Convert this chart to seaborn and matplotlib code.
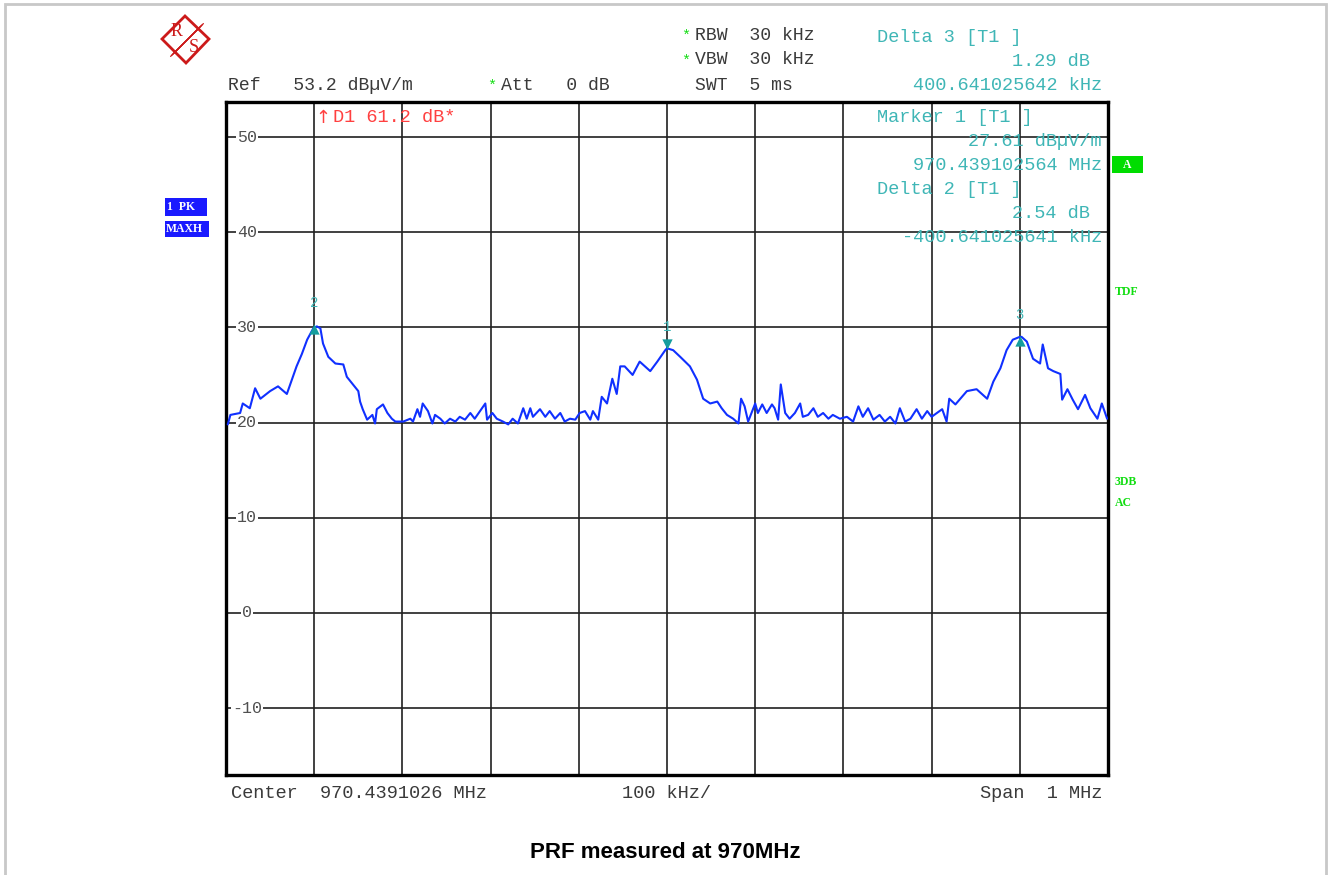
import matplotlib
matplotlib.use("Agg")
import matplotlib.pyplot as plt
import matplotlib.transforms as mtransforms
from matplotlib.patches import Rectangle, Polygon
from matplotlib.lines import Line2D
import seaborn as sns
import pandas as pd

# ---------------- data ----------------
freq_khz = [-498, -495, -484, -481, -473, -467, -461, -450, -441, -431, -425, -420,
            -414, -408, -401, -397, -393, -390, -384, -376, -367, -363, -356, -350,
            -348, -345, -340, -334, -331, -329, -322, -317, -312, -308,
            -299, -291, -288, -283, -280, -277, -271, -266, -263, -257,
            -252, -246, -240, -235, -229, -223, -218, -212, -206, -204,
            -198, -193, -186, -180, -175, -169, -163, -159, -155, -152,
            -144, -138, -133, -127, -121, -116, -110, -104, -99, -93,
            -87, -84, -78, -74, -68,
            -62, -57, -53, -48, -39, -31, -19, -11, -2, 0, 7, 15, 26, 34,
            41, 49, 57, 62, 68, 75, 81, 84, 88, 92,
            100, 103, 108, 113, 119, 122, 126, 129, 134, 139,
            145, 151, 154, 160, 166, 171, 177, 183, 188, 196,
            204, 211, 217, 222, 228, 234, 241, 247, 253, 259,
            264, 270, 276, 283, 289, 295, 300, 306, 312, 317,
            320, 327,
            340, 351, 363, 370, 378, 385, 392, 400, 402, 408,
            415, 423, 426, 432, 438, 446, 448, 454, 460, 466,
            474, 480, 488, 493, 499]
level_dbuv = [19.8, 20.8, 21.0, 22.0, 21.5, 23.6, 22.5, 23.3, 23.8, 23.0, 24.6, 25.9,
              27.2, 28.7, 29.9, 30.1, 29.9, 28.3, 26.9, 26.2, 26.1, 24.8, 24.0, 23.3,
              22.2, 21.4, 20.3, 20.8, 19.9, 21.4, 21.9, 21.0, 20.4, 20.1,
              20.1, 20.4, 20.1, 21.4, 20.6, 22.0, 21.2, 19.9, 20.8, 20.4,
              19.9, 20.4, 20.1, 20.6, 20.3, 21.0, 20.4, 21.2, 22.0, 20.3,
              21.0, 20.4, 20.1, 19.8, 20.4, 19.9, 21.5, 20.4, 21.5, 20.6,
              21.4, 20.6, 21.2, 20.4, 21.0, 20.1, 20.4, 20.3, 21.0, 21.2,
              20.3, 21.2, 20.3, 22.7, 22.0,
              24.6, 23.0, 25.9, 25.9, 25.0, 26.4, 25.4, 26.4, 27.6, 27.8, 27.6, 26.9, 25.9, 24.5,
              22.5, 22.0, 22.2, 21.5, 20.8, 20.4, 19.9, 22.5, 21.7, 20.1,
              22.0, 21.0, 21.9, 21.0, 21.9, 21.5, 20.3, 24.0, 21.0, 20.4,
              21.0, 22.0, 20.6, 20.8, 21.5, 20.6, 21.0, 20.4, 20.8, 20.4,
              20.6, 20.1, 21.7, 20.6, 21.5, 20.3, 20.8, 20.1, 20.6, 19.9,
              21.5, 20.1, 20.4, 21.4, 20.4, 21.2, 20.6, 21.0, 21.4, 20.1,
              22.5, 21.9,
              23.3, 23.5, 22.5, 24.3, 25.7, 27.6, 28.7, 29.0, 29.0, 28.5,
              26.7, 26.2, 28.2, 25.7, 25.4, 25.1, 22.4, 23.5, 22.4, 21.4,
              22.9, 21.5, 20.4, 22.0, 20.4]

marker_labels = ["2", "1", "3"]
marker_freq = [-400, 0, 400]
marker_level = [30.15, 27.61, 28.9]
marker_shape = ["^", "v", "^"]

y_ticks = [50, 40, 30, 20, 10, 0, -10]
x_grid = [-400, -300, -200, -100, 0, 100, 200, 300, 400]

header_left = ["Ref   53.2 dB\u00b5V/m"]
att_text = "Att   0 dB"
rbw_text = "RBW  30 kHz"
vbw_text = "VBW  30 kHz"
swt_text = "SWT  5 ms"
delta3_lines = ["Delta 3 [T1 ]", "1.29 dB", "400.641025642 kHz"]
marker1_lines = ["Marker 1 [T1 ]", "27.61 dB\u00b5V/m", "970.439102564 MHz"]
delta2_lines = ["Delta 2 [T1 ]", "2.54 dB", "-400.641025641 kHz"]
d1_text = "D1 61.2 dB*"
bottom_left = "Center  970.4391026 MHz"
bottom_mid = "100 kHz/"
bottom_right = "Span  1 MHz"
title_text = "PRF measured at 970MHz"

# ---------------- figure ----------------
W, H = 1331, 875
sns.set_style("white")
plt.rcParams["font.family"] = ["DejaVu Sans"]
fig = plt.figure(figsize=(W / 100, H / 100), dpi=100)

def fx(x):
    return x / W

def fy(y):
    return 1 - y / H

MONO = ["Liberation Mono", "DejaVu Sans Mono"]
SERIF = ["Liberation Serif", "DejaVu Serif"]
TEAL = "#3fb6b6"
GRAY = "#3a3a3a"
GREEN = "#11dd11"

# outer light frame
fig.patches.append(Rectangle((fx(5), fy(880)), fx(1321), 876 / H, transform=fig.transFigure,
                             fill=False, edgecolor="#c8c8c8", linewidth=2))

ax = fig.add_axes([fx(226), fy(775), fx(1108 - 226), (775 - 102) / H])
ax.set_xlim(-500, 500)
ax.set_ylim(-17.04, 53.68)

# grid
for xv in x_grid:
    ax.axvline(xv, color="#202020", linewidth=1.2, zorder=1)
for yv in y_ticks:
    ax.axhline(yv, color="#202020", linewidth=1.2, zorder=1)

df = pd.DataFrame({"freq": freq_khz, "level": level_dbuv})
sns.lineplot(data=df, x="freq", y="level", ax=ax, color="#1030ff", linewidth=1.5,
             estimator=None, sort=True, zorder=3)

mdf = pd.DataFrame({"freq": marker_freq, "level": marker_level, "lab": marker_labels,
                    "shape": marker_shape})
for _, r in mdf.iterrows():
    ax.scatter([r["freq"]], [r["level"] + (0.6 if r["shape"] == "v" else -0.3)],
               marker=r["shape"], s=55, color="#159e9e", zorder=4, linewidths=0)
    ax.text(r["freq"], r["level"] + 2.4, r["lab"], color=TEAL, fontsize=10,
            family=MONO, ha="center", va="center", zorder=5)

ax.set_xticks([])
ax.set_yticks([])
ax.set_xlabel("")
ax.set_ylabel("")
for s in ax.spines.values():
    s.set_visible(True)
    s.set_linewidth(2.4)
    s.set_color("black")

# y labels inside plot
trans = mtransforms.blended_transform_factory(ax.transAxes, ax.transData)
for yv in y_ticks:
    ax.text((247 - 226) / 882, yv, str(yv), transform=trans, fontsize=12, family=MONO,
            color="#505050", ha="center", va="center", zorder=2,
            bbox=dict(facecolor="white", edgecolor="none", pad=0.6))

FS = 13.4

def t(x, y, s, color=GRAY, ha="left", fs=FS, family=MONO, **kw):
    fig.text(fx(x), fy(y), s, color=color, ha=ha, va="center", fontsize=fs, family=family, **kw)

# header
t(228, 85, header_left[0], fs=13.1)
t(492, 86, "*", color=GREEN, ha="center", fs=11)
t(501, 85, att_text, fs=13.1)
t(686, 36, "*", color=GREEN, ha="center", fs=11)
t(695, 35, rbw_text, fs=13.1)
t(686, 61, "*", color=GREEN, ha="center", fs=11)
t(695, 60, vbw_text, fs=13.1)
t(695, 85, swt_text, fs=13.1)
t(877, 37, delta3_lines[0], color=TEAL)
t(1090, 61, delta3_lines[1], color=TEAL, ha="right")
t(1102, 85, delta3_lines[2], color=TEAL, ha="right")

# marker block inside plot
t(877, 117, marker1_lines[0], color=TEAL)
t(1102, 141, marker1_lines[1], color=TEAL, ha="right")
t(1102, 165, marker1_lines[2], color=TEAL, ha="right")
t(877, 189, delta2_lines[0], color=TEAL)
t(1090, 213, delta2_lines[1], color=TEAL, ha="right")
t(1102, 237, delta2_lines[2], color=TEAL, ha="right")

# display line indicator
t(323, 118, "\u2191", color="#ff4040", ha="center", fs=13, family=["DejaVu Sans"])
t(333, 118, d1_text, color="#ff4040")

# bottom
t(231, 793, bottom_left)
t(667, 793, bottom_mid, ha="center")
t(1102, 793, bottom_right, ha="right")
fig.text(fx(665), fy(853), title_text, ha="center", va="center", fontsize=16,
         fontweight="bold", family=["Liberation Sans", "DejaVu Sans"], color="black")

# right-side green annotations
fig.patches.append(Rectangle((fx(1112), fy(173)), fx(31), 17 / H, transform=fig.transFigure,
                             facecolor="#00dd00", edgecolor="none"))
t(1127.5, 165, "A", color="white", ha="center", fs=8.5, family=SERIF, fontweight="bold")
t(1115, 292, "TDF", color=GREEN, fs=8.5, family=SERIF, fontweight="bold")
t(1115, 482, "3DB", color=GREEN, fs=8.5, family=SERIF, fontweight="bold")
t(1115, 503, "AC", color=GREEN, fs=8.5, family=SERIF, fontweight="bold")

# left blue labels
fig.patches.append(Rectangle((fx(165), fy(216)), fx(42), 18 / H, transform=fig.transFigure,
                             facecolor="#1a1aff", edgecolor="none"))
fig.patches.append(Rectangle((fx(165), fy(237)), fx(44), 16 / H, transform=fig.transFigure,
                             facecolor="#1a1aff", edgecolor="none"))
t(167, 207, "1  PK", color="white", fs=8.5, family=SERIF, fontweight="bold")
t(166, 229, "MAXH", color="white", fs=8.5, family=SERIF, fontweight="bold")

# R&S logo
RED = "#cc1a1a"
diamond = [(162, 39), (185, 16), (209, 39), (186, 63)]
fig.patches.append(Polygon([(fx(a), fy(b)) for a, b in diamond], closed=True,
                           transform=fig.transFigure, facecolor="white", edgecolor=RED,
                           linewidth=2))
for off in (-2.4, -1.2, 0, 1.2, 2.4):
    fig.lines.append(Line2D([fx(201 + off), fx(173 + off)], [fy(26 - off), fy(54 - off)],
                            transform=fig.transFigure, color=RED, linewidth=0.9))
t(177, 31, "R", color=RED, fs=13, ha="center", family=SERIF)
t(194, 48, "S", color=RED, fs=13, ha="center", family=SERIF)

fig.savefig("out.png", dpi=100)
